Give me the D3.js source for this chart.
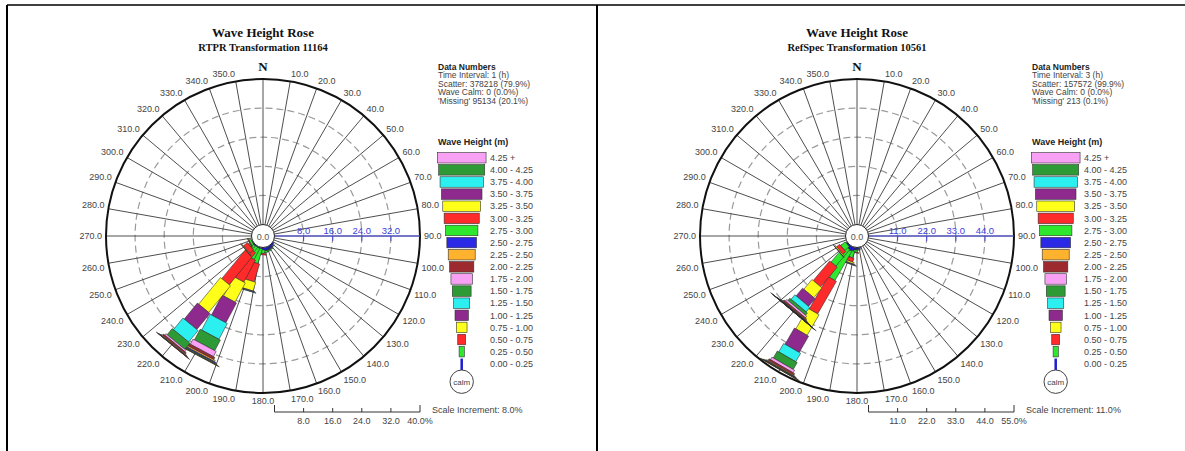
<!DOCTYPE html>
<html>
<head>
<meta charset="utf-8">
<script src="https://cdn.jsdelivr.net/npm/d3@7"></script>
<style>
  body { margin: 0; background: #fff; }
  svg { display: block; }
  text { font-family: "Liberation Sans", Arial, sans-serif; }
</style>
</head>
<body>
<svg id="chart" width="1185" height="451"></svg>
<script>
// wave height classes (index 0 = lowest)
const heightClasses = ["0.00 - 0.25", "0.25 - 0.50", "0.50 - 0.75", "0.75 - 1.00", "1.00 - 1.25",
  "1.25 - 1.50", "1.50 - 1.75", "1.75 - 2.00", "2.00 - 2.25", "2.25 - 2.50", "2.50 - 2.75",
  "2.75 - 3.00", "3.00 - 3.25", "3.25 - 3.50", "3.50 - 3.75", "3.75 - 4.00", "4.00 - 4.25", "4.25 +"];
const classColors = ["#1c1cd0", "#2ee82e", "#ff2a2a", "#ffff1a", "#8e2a8e", "#2cf0f0", "#2e9a36", "#f7a0f4",
  "#9c2a2e", "#ffb22e", "#2a2ae6", "#2ee82e", "#ff2a2a", "#ffff1a", "#8e2a8e", "#2cf0f0", "#2e9a36", "#f7a0f4"];

// direction tick labels
const dirTicks = [10, 20, 30, 40, 50, 60, 70, 80, 90, 100, 110, 120, 130, 140, 150, 160, 170,
  180, 190, 200, 210, 220, 230, 240, 250, 260, 270, 280, 290, 300, 310, 320, 330, 340, 350];

// left rose: RTPR, % per direction, by height class
const leftDirs = [129.375, 140.625, 151.875, 163.125, 174.375, 185.625, 196.875, 208.125, 219.375, 230.625, 241.875];
const leftPct = [
  [0.4],
  [0.7, 0.1],
  [0.9, 0.2],
  [1.0, 0.3],
  [0.9, 0.5],
  [0.6, 1.0, 0.4],
  [0.3, 4.2, 5.1, 2.5, 0.25, 0.1],
  [0.3, 3.4, 6.8, 6.0, 6.2, 4.9, 3.3, 1.6, 0.7, 0.4, 0.3, 0.2, 0.1, 0.05],
  [0.2, 1.5, 11.4, 9.45, 5.7, 4.1, 2.2, 0.5, 0.4, 0.2, 0.15, 0.05, 0.03],
  [0.3, 1.0, 1.4, 0.2, 0.05],
  [0.2, 0.6, 0.2]
];
const leftInfo = ["Time Interval: 1 (h)", "Scatter: 378218 (79.9%)", "Wave Calm: 0 (0.0%)", "'Missing' 95134 (20.1%)"];

// right rose: RefSpec
const rightDirs = [170, 180, 190, 200, 210, 220, 230];
const rightPct = [
  [0.5],
  [0.8, 0.2],
  [1.0, 0.8, 0.2],
  [1.5, 2.5, 1.5, 0.6, 0.3, 0.1],
  [1.7, 12.7, 14.2, 9.0, 7.1, 3.7, 3.0, 1.1, 0.7, 0.3, 0.2, 0.15, 0.1, 0.05],
  [1.3, 8.2, 9.7, 4.8, 3.8, 2.2, 1.1, 0.8, 0.5, 0.2, 0.15, 0.1, 0.08, 0.05, 0.03, 0.02, 0.01, 0.02],
  [0.5, 2.2, 1.5, 0.4, 0.1]
];
const rightInfo = ["Time Interval: 3 (h)", "Scatter: 157572 (99.9%)", "Wave Calm: 0 (0.0%)", "'Missing' 213 (0.1%)"];

const svg = d3.select("#chart");

// table borders
svg.append("line").attr("x1", 7).attr("x2", 1185).attr("y1", 5).attr("y2", 5).attr("stroke", "#000").attr("stroke-width", 1.5);
[7, 597].forEach(x => svg.append("line").attr("x1", x).attr("x2", x).attr("y1", 5).attr("y2", 451)
  .attr("stroke", "#000").attr("stroke-width", 2));

const segWidth = k => 2.5 + 2.72 * k;

function drawPanel(o) {
  const g = svg.append("g");
  const cx = o.cx, cy = 236, R = 157, r0 = 11.5;
  const r = d3.scaleLinear().domain([0, o.max]).range([r0, R]);
  const steps = d3.range(1, 5).map(i => i * o.step);
  const pt = (deg, rr) => [cx + rr * Math.sin(deg * Math.PI / 180), cy - rr * Math.cos(deg * Math.PI / 180)];

  // titles
  g.append("text").attr("x", cx).attr("y", 37).attr("text-anchor", "middle")
    .style("font-family", "'Liberation Serif', serif").style("font-weight", "bold").style("font-size", "13px")
    .attr("fill", "#111").text("Wave Height Rose");
  g.append("text").attr("x", cx).attr("y", 51).attr("text-anchor", "middle")
    .style("font-family", "'Liberation Serif', serif").style("font-weight", "bold").style("font-size", "10.5px")
    .attr("fill", "#111").text(o.subtitle);
  g.append("text").attr("x", cx).attr("y", 71).attr("text-anchor", "middle")
    .style("font-family", "'Liberation Serif', serif").style("font-weight", "bold").style("font-size", "13px")
    .attr("fill", "#111").text("N");

  // dashed rings
  g.selectAll("circle.ring").data(steps).join("circle")
    .attr("cx", cx).attr("cy", cy).attr("r", d => r(d))
    .attr("fill", "none").attr("stroke", "#9a9a9a").attr("stroke-width", 1.2).attr("stroke-dasharray", "7,4");

  // spokes
  g.selectAll("line.spoke").data(d3.range(0, 360, 10)).join("line")
    .attr("x1", d => pt(d, r0)[0]).attr("y1", d => pt(d, r0)[1])
    .attr("x2", d => pt(d, R)[0]).attr("y2", d => pt(d, R)[1])
    .attr("stroke", "#3a3a3a").attr("stroke-width", 0.9);

  g.append("circle").attr("cx", cx).attr("cy", cy).attr("r", R)
    .attr("fill", "none").attr("stroke", "#111").attr("stroke-width", 2);

  // direction labels
  g.selectAll("text.dir").data(dirTicks).join("text")
    .attr("x", d => pt(d, R + 4)[0]).attr("y", d => pt(d, R + 4)[1])
    .attr("text-anchor", d => d === 180 ? "middle" : (d < 180 ? "start" : "end"))
    .attr("dy", d => (d === 90 || d === 270) ? "0.35em" : (d > 90 && d < 270 ? "0.8em" : "-0.05em"))
    .style("font-size", "9px").attr("fill", "#444")
    .text(d => d.toFixed(1));

  // petals (segments get wider with height class)
  const segs = [];
  o.dirs.forEach((dir, j) => {
    const cum = [0, ...d3.cumsum(o.pct[j])];
    o.pct[j].forEach((v, k) => segs.push({ dir, k, v0: cum[k], v1: cum[k + 1] }));
  });
  const pw = k => segWidth(k) * 1.22;
  g.selectAll("rect.seg").data(segs).join("rect")
    .attr("transform", d => `translate(${cx},${cy}) rotate(${d.dir})`)
    .attr("x", d => -pw(d.k) / 2).attr("width", d => pw(d.k))
    .attr("y", d => -r(d.v1)).attr("height", d => r(d.v1) - r(d.v0))
    .attr("fill", d => classColors[d.k]).attr("stroke", "#2a2a2a").attr("stroke-width", 0.5);

  // blue radial axis
  g.append("line").attr("x1", cx + r0).attr("x2", cx + R).attr("y1", cy).attr("y2", cy)
    .attr("stroke", "#4646e6").attr("stroke-width", 1.2);
  g.selectAll("line.btick").data(steps).join("line")
    .attr("x1", d => cx + r(d)).attr("x2", d => cx + r(d)).attr("y1", cy).attr("y2", cy + 5)
    .attr("stroke", "#4646e6").attr("stroke-width", 1);
  g.selectAll("text.blab").data(steps).join("text")
    .attr("x", d => cx + r(d)).attr("y", cy - 2).attr("text-anchor", "middle")
    .style("font-size", "9.5px").attr("fill", "#4040e0").text(d => d.toFixed(1));

  // calm circle
  g.append("circle").attr("cx", cx).attr("cy", cy).attr("r", r0)
    .attr("fill", "#fff").attr("stroke", "#222").attr("stroke-width", 1);
  g.append("text").attr("x", cx).attr("y", cy + 3.5).attr("text-anchor", "middle")
    .style("font-size", "9px").attr("fill", "#555").text("0.0");

  // scale bar
  const sy = 412;
  const sAll = [0, ...steps, o.max];
  g.append("line").attr("x1", cx + r0).attr("x2", cx + R).attr("y1", sy).attr("y2", sy)
    .attr("stroke", "#333").attr("stroke-width", 1);
  g.selectAll("line.stick").data(sAll).join("line")
    .attr("x1", d => cx + r(d)).attr("x2", d => cx + r(d))
    .attr("y1", d => (d === 0 || d === o.max) ? sy - 7 : sy - 4).attr("y2", sy)
    .attr("stroke", "#333").attr("stroke-width", 1);
  g.selectAll("text.slab").data(sAll.slice(1)).join("text")
    .attr("x", d => cx + r(d)).attr("y", sy + 12).attr("text-anchor", "middle")
    .style("font-size", "9px").attr("fill", "#444")
    .text(d => d === o.max ? d.toFixed(1) + "%" : d.toFixed(1));
  g.append("text").attr("x", cx + R + 12).attr("y", sy + 1)
    .style("font-size", "9px").attr("fill", "#444").text("Scale Increment: " + o.step.toFixed(1) + "%");

  // data numbers
  const ix = cx + 175;
  g.append("text").attr("x", ix).attr("y", 69.5).style("font-size", "8.5px").style("font-weight", "bold")
    .attr("fill", "#222").text("Data Numbers");
  g.selectAll("text.info").data(o.info).join("text")
    .attr("x", ix).attr("y", (d, i) => 78 + i * 8.5)
    .style("font-size", "8.5px").attr("fill", "#444").text(d => d);

  // legend
  const lx = cx + 198.7;
  const pitch = 12.12;
  const topY = k => 152.5 + pitch * (17 - k);
  g.append("text").attr("x", ix).attr("y", 145).style("font-size", "9px").style("font-weight", "bold")
    .attr("fill", "#222").text("Wave Height (m)");
  const lk = d3.range(1, 18);
  g.selectAll("rect.leg").data(lk).join("rect")
    .attr("x", k => lx - segWidth(k) / 2).attr("width", k => segWidth(k))
    .attr("y", k => topY(k)).attr("height", 10.5)
    .attr("fill", k => classColors[k]).attr("stroke", "#333").attr("stroke-width", 0.6);
  g.append("line").attr("x1", lx).attr("x2", lx).attr("y1", topY(0)).attr("y2", 370)
    .attr("stroke", classColors[0]).attr("stroke-width", 2.5);
  g.selectAll("text.leg").data(d3.range(0, 18)).join("text")
    .attr("x", cx + 227).attr("y", k => topY(k) + 8.5)
    .style("font-size", "9px").attr("fill", "#444").text(k => heightClasses[k]);
  g.append("circle").attr("cx", lx).attr("cy", 381.7).attr("r", 11.7)
    .attr("fill", "#fff").attr("stroke", "#444").attr("stroke-width", 1);
  g.append("text").attr("x", lx).attr("y", 384.5).attr("text-anchor", "middle")
    .style("font-size", "8px").attr("fill", "#444").text("calm");
}

drawPanel({ cx: 263, subtitle: "RTPR Transformation 11164", max: 40, step: 8, dirs: leftDirs, pct: leftPct, info: leftInfo });
drawPanel({ cx: 857, subtitle: "RefSpec Transformation 10561", max: 55, step: 11, dirs: rightDirs, pct: rightPct, info: rightInfo });
</script>
</body>
</html>
